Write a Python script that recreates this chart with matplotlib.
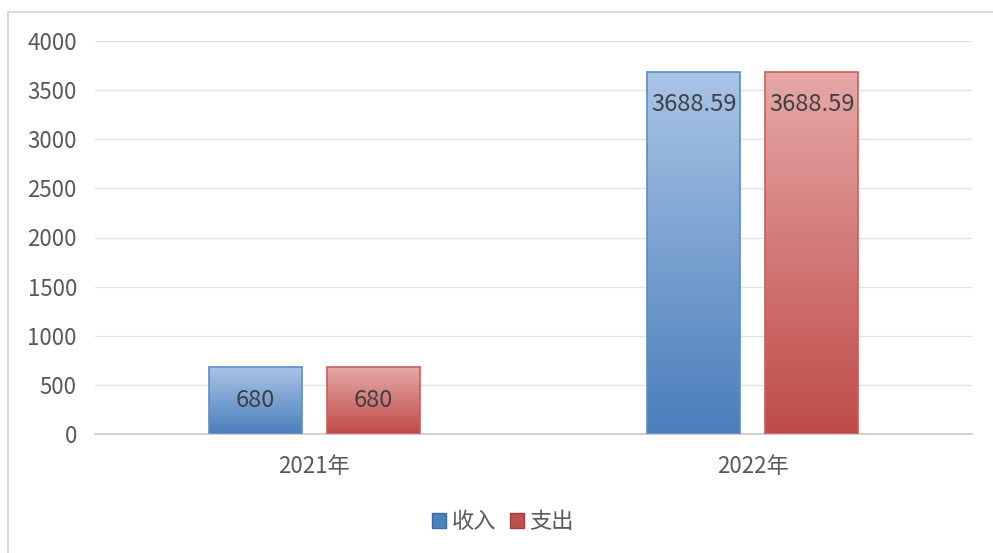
import numpy as np
import matplotlib
matplotlib.use('Agg')
import matplotlib.pyplot as plt
from matplotlib.patches import Rectangle
from matplotlib.colors import LinearSegmentedColormap

plt.rcParams['font.family'] = ['Noto Sans CJK SC', 'DejaVu Sans']

#-------------------------------------------------

years = ['2021年', '2022年']
income = [680, 3688.59]
expense = [680, 3688.59]
series_names = ['收入', '支出']
income_labels = ['680', '3688.59']
expense_labels = ['680', '3688.59']

#-------------------------------------------------

fig = plt.figure(figsize=(9.93, 5.53), dpi=100)
ax = fig.add_axes([95/993, 1-434/553, 877/993, 393/553])

# outer chart frame
fig.patches.append(Rectangle((8/993, -0.05), 1.0, 1-12/553+0.05, transform=fig.transFigure,
                             fill=False, edgecolor='#d9d9d9', linewidth=1.5))

blue_cm = LinearSegmentedColormap.from_list('b', ['#4a7ebb', '#a9c4e6'])
red_cm = LinearSegmentedColormap.from_list('r', ['#be4b48', '#e6a8a7'])

x = np.arange(len(years))
width = 0.212
gap = 0.057
offset = (width + gap) / 2

grad = np.linspace(0, 1, 256).reshape(-1, 1)

def gradient_bars(xpos, vals, cmap, edge):
    bars = ax.bar(xpos, vals, width, facecolor='none', edgecolor=edge, linewidth=1.2, zorder=3)
    for b in bars:
        x0, y0 = b.get_x(), b.get_y()
        w, h = b.get_width(), b.get_height()
        im = ax.imshow(grad, cmap=cmap, origin='lower', aspect='auto',
                       extent=[x0, x0 + w, y0, y0 + h], zorder=2)
        im.set_clip_path(b)
    return bars

b1 = gradient_bars(x - offset, income, blue_cm, '#5b8ccc')
b2 = gradient_bars(x + offset, expense, red_cm, '#cc5c5a')

for bars, labs in [(b1, income_labels), (b2, expense_labels)]:
    for b, lab in zip(bars, labs):
        ax.annotate(lab, (b.get_x() + b.get_width()/2, b.get_height()),
                    xytext=(0, -33), textcoords='offset pixels',
                    ha='center', va='center', fontsize=17, color='#404040', zorder=5)

ax.set_xlim(-0.5, 1.5)
ax.set_ylim(0, 4000)
ax.set_yticks(np.arange(0, 4001, 500))
ax.set_xticks(x)
ax.set_xticklabels(years)
ax.grid(axis='y', color='#e3e3e3', linewidth=1.0, zorder=0)
ax.set_axisbelow(True)
for s in ['top', 'right', 'left']:
    ax.spines[s].set_visible(False)
ax.spines['bottom'].set_color('#c8c8c8')
ax.spines['bottom'].set_linewidth(1.2)
ax.tick_params(axis='both', length=0, labelsize=16, colors='#595959')
ax.tick_params(axis='y', pad=13)
ax.tick_params(axis='x', pad=15)

handles = [Rectangle((0, 0), 1, 1, facecolor='#4f81bd', edgecolor='#3a6aa8'),
           Rectangle((0, 0), 1, 1, facecolor='#c0504d', edgecolor='#a03c3a')]
fig.legend(handles, series_names, loc='center', bbox_to_anchor=(503/993, 1-522/553),
           ncol=2, frameon=False, fontsize=16, handlelength=0.65, handleheight=0.65,
           handletextpad=0.25, columnspacing=0.6, labelcolor='#595959')

fig.savefig('out.png', dpi=100)
